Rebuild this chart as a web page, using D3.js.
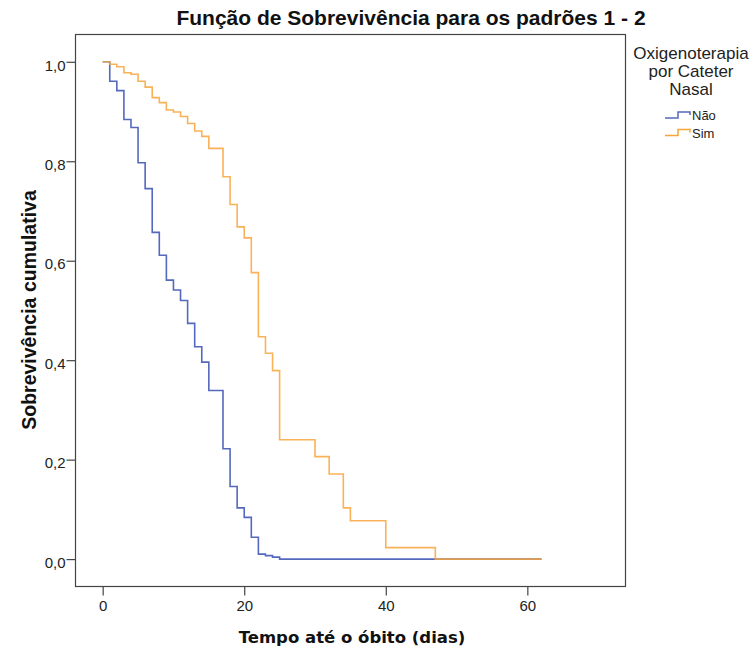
<!DOCTYPE html>
<html>
<head>
<meta charset="utf-8">
<script src="https://cdn.jsdelivr.net/npm/d3@7"></script>
<style>
  body { margin: 0; background: #fff; }
  svg { display: block; }
</style>
</head>
<body>
<div id="chart-area"></div>
<script>
// Dados (Kaplan-Meier, tempo em dias)
var groups = ["Não", "Sim"];
var naoTimes = [0, 1, 2, 3, 4, 5, 6, 7, 8, 9, 10, 11, 12, 13, 14, 15, 17, 18, 19, 20, 21, 22, 23, 24, 25, 62];
var naoSurv = [1.0, 0.961, 0.942, 0.884, 0.868, 0.797, 0.745, 0.657, 0.611, 0.561, 0.541, 0.520, 0.474, 0.427, 0.396, 0.339, 0.222, 0.146, 0.103, 0.084, 0.044, 0.010, 0.007, 0.004, 0.0, 0.0];
var simTimes = [0, 1, 2, 3, 4, 5, 6, 7, 8, 9, 10, 11, 12, 13, 14, 15, 17, 18, 19, 20, 21, 22, 23, 24, 25, 30, 32, 34, 35, 40, 47, 62];
var simSurv = [1.0, 0.995, 0.990, 0.978, 0.975, 0.961, 0.949, 0.928, 0.918, 0.903, 0.899, 0.890, 0.876, 0.861, 0.850, 0.826, 0.769, 0.713, 0.668, 0.646, 0.576, 0.447, 0.414, 0.379, 0.240, 0.206, 0.171, 0.103, 0.077, 0.023, 0.0, 0.0];
var xTicks = [0, 20, 40, 60];
var yTicks = [0, 0.2, 0.4, 0.6, 0.8, 1.0];
var colors = ["#5469bd", "#f8a53a"];

var width = 756, height = 653;
var plotLeft = 75.5, plotRight = 625.5, plotTop = 34.5, plotBottom = 586.5;

var svg = d3.select("#chart-area").append("svg")
    .attr("width", width)
    .attr("height", height);

// Escalas
var x = d3.scaleLinear().domain([-3.84, 73.87]).range([plotLeft, plotRight]);
var y = d3.scaleLinear().domain([-0.0551, 1.0549]).range([plotBottom, plotTop]);

var fmt = function (d) { return d3.format(".1f")(d).replace(".", ","); };

// Eixo X
var xAxis = svg.append("g")
    .attr("transform", "translate(0," + plotBottom + ")")
    .call(d3.axisBottom(x).tickValues(xTicks).tickSize(9).tickSizeOuter(0).tickPadding(5));
xAxis.select(".domain").remove();

// Eixo Y
var yAxis = svg.append("g")
    .attr("transform", "translate(" + plotLeft + ",0)")
    .call(d3.axisLeft(y).tickValues(yTicks).tickFormat(fmt).tickSize(9).tickSizeOuter(0).tickPadding(1));
yAxis.select(".domain").remove();
yAxis.selectAll("text").attr("dy", "0.55em");

svg.selectAll(".tick line").attr("stroke", "#444").attr("stroke-width", 1.2);
svg.selectAll(".tick text")
    .attr("fill", "#222")
    .style("font-family", "'Liberation Sans', Arial, sans-serif")
    .style("font-size", "15px");

// Moldura
svg.append("rect")
    .attr("x", plotLeft)
    .attr("y", plotTop)
    .attr("width", plotRight - plotLeft)
    .attr("height", plotBottom - plotTop)
    .attr("fill", "none")
    .attr("stroke", "#444")
    .attr("stroke-width", 1.2);

// Curvas de sobrevivência
var line = d3.line()
    .x(function (d) { return x(d[0]); })
    .y(function (d) { return y(d[1]); })
    .curve(d3.curveStepAfter);

var series = [d3.zip(naoTimes, naoSurv), d3.zip(simTimes, simSurv)];
series.forEach(function (s, i) {
    svg.append("path")
        .datum(s)
        .attr("d", line)
        .attr("fill", "none")
        .attr("stroke", colors[i])
        .attr("stroke-width", 1.6)
        .attr("stroke-opacity", i === 1 ? 0.85 : 1);
});

// Título
svg.append("text")
    .attr("x", 411)
    .attr("y", 25)
    .attr("text-anchor", "middle")
    .style("font-family", "'Liberation Sans', Arial, sans-serif")
    .style("font-weight", "bold")
    .style("font-size", "21px")
    .attr("fill", "#111")
    .text("Função de Sobrevivência para os padrões 1 - 2");

// Títulos dos eixos
svg.append("text")
    .attr("x", 352)
    .attr("y", 643)
    .attr("text-anchor", "middle")
    .style("font-family", "'DejaVu Sans', Verdana, sans-serif")
    .style("font-weight", "bold")
    .style("font-size", "16.5px")
    .attr("fill", "#111")
    .text("Tempo até o óbito (dias)");

svg.append("text")
    .attr("transform", "translate(35.5,310) rotate(-90)")
    .attr("text-anchor", "middle")
    .style("font-family", "'Liberation Sans', Arial, sans-serif")
    .style("font-weight", "bold")
    .style("font-size", "19.5px")
    .attr("fill", "#111")
    .text("Sobrevivência cumulativa");

// Legenda
var legendTitle = ["Oxigenoterapia", "por Cateter", "Nasal"];
svg.selectAll(".legend-title")
    .data(legendTitle)
    .enter().append("text")
    .attr("x", 691)
    .attr("y", function (d, i) { return 59 + i * 18; })
    .attr("text-anchor", "middle")
    .style("font-family", "'Liberation Sans', Arial, sans-serif")
    .style("font-size", "17px")
    .attr("fill", "#222")
    .text(function (d) { return d; });

groups.forEach(function (g, i) {
    var oy = 118 + i * 17.5;
    svg.append("path")
        .attr("d", "M665," + oy + " H678 V" + (oy - 6) + " H690 V" + (oy - 3))
        .attr("fill", "none")
        .attr("stroke", colors[i])
        .attr("stroke-width", 1.5);
    svg.append("text")
        .attr("x", 692)
        .attr("y", oy + 2)
        .style("font-family", "'Liberation Sans', Arial, sans-serif")
        .style("font-size", "13px")
        .attr("fill", "#222")
        .text(g);
});
</script>
</body>
</html>
